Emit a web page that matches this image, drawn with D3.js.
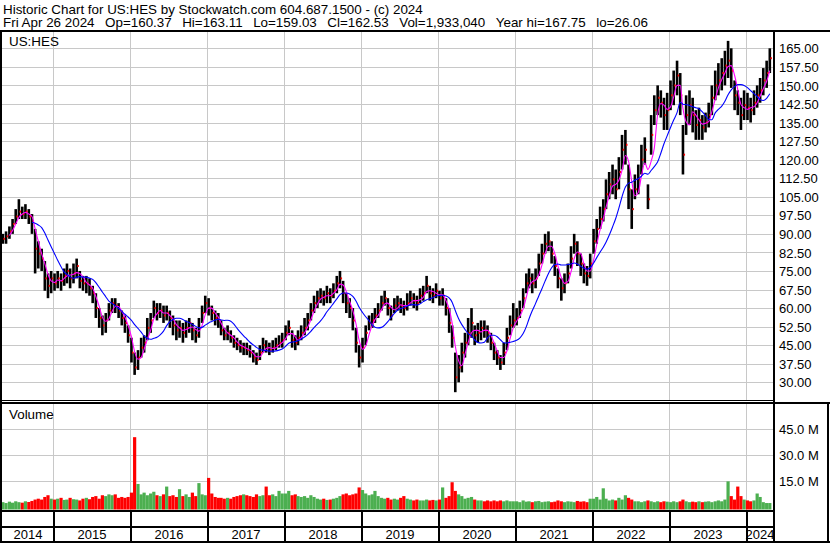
<!DOCTYPE html>
<html><head><meta charset="utf-8">
<script src="https://cdn.jsdelivr.net/npm/d3@7"></script>
<style>
html,body{margin:0;padding:0;background:#fff;}
svg{display:block;font-family:"Liberation Sans",Arial,sans-serif;}
</style></head><body>
<svg id="c" width="830" height="543"></svg>
<script>
// ---- data: semi-monthly periods starting May 2014 ----
const startYear = 2014, startMonth = 5;
const close = [
 88,89,91,94,97,99,98,99,97,95,84,82,80,72,69,72,
 70,72,71,73,75,72,74,77,71,70,70,68,66,60,56,53,55,59,62,61,59,56,54,49,
 42,36,40,44,46,52,55,60,58,59,57,58,56,53,51,52,50,52,54,51,49,52,58,62,
 60,58,56,55,51,49,50,48,46,45,44,44,43,42,40,39,42,45,44,43,44,45,46,47,
 50,52,47,46,48,50,52,55,59,62,64,65,64,66,65,67,70,72,66,62,60,55,46,40,
 44,50,54,55,57,59,62,64,60,57,61,62,61,60,62,64,63,62,65,66,69,66,65,67,
 64,65,60,54,48,32,36,42,46,50,54,49,50,52,51,50,46,42,40,38,42,48,53,55,
 56,59,64,70,72,70,72,78,82,86,87,82,77,72,68,70,74,80,86,82,78,74,73,78,
 87,92,96,100,106,110,112,108,115,124,126,108,100,108,112,120,124,104,130,140,145,143,138,140,
 146,150,154,146,122,138,142,138,134,136,133,135,138,145,150,152,155,158,160,156,146,143,138,142,
 141,140,143,146,148,152,155,161];
const high = [
 90,91,93,96,100,104,101,102,100,98,92,87,84,79,74,75,
 74,75,74,76,78,76,78,80,75,73,73,72,69,66,60,57,58,62,64,64,62,59,57,53,
 48,42,43,48,49,56,58,63,62,62,61,61,59,57,55,55,54,55,56,54,52,56,61,65,
 64,61,59,58,55,52,53,51,49,48,47,46,46,45,43,42,45,48,47,46,47,48,49,50,
 53,55,51,49,51,53,56,58,62,65,67,68,67,69,68,70,73,75,71,66,64,60,52,45,
 48,53,57,58,60,62,65,67,64,61,64,65,64,63,66,67,66,65,68,69,73,69,68,70,
 67,68,64,60,53,42,41,46,50,56,60,53,54,55,55,53,50,46,43,41,46,52,57,62,
 60,63,68,74,76,74,76,82,86,90,91,87,81,76,72,74,78,85,90,87,82,78,77,82,
 92,96,101,104,112,115,118,116,121,130,132,118,108,114,118,126,129,110,138,146,150,148,145,147,
 152,156,160,155,134,146,148,145,140,141,138,139,143,150,156,159,161,164,168,165,152,148,145,148,
 147,145,148,150,153,157,160,165];
const low = [
 86,86,88,90,94,96,96,96,94,90,74,76,75,67,64,66,
 67,68,67,69,70,68,70,72,68,67,66,65,62,56,52,49,50,55,58,58,56,53,50,46,
 38,33,35,40,42,47,50,56,55,56,54,55,52,49,47,48,46,48,50,47,46,48,54,58,
 57,55,53,52,49,47,47,46,44,43,42,41,41,40,38,37,39,42,42,41,42,43,44,44,
 47,49,44,43,45,47,49,51,55,58,60,62,61,62,62,64,66,68,62,58,56,51,42,36,
 38,45,51,52,54,56,59,61,57,55,58,59,58,57,59,61,60,59,62,63,66,63,62,64,
 61,61,57,50,44,26,30,34,40,45,48,45,46,47,48,46,43,39,37,35,37,43,49,52,
 53,56,60,66,68,66,68,73,78,82,83,78,73,68,63,66,70,76,82,77,73,70,69,72,
 82,86,92,95,100,104,106,104,108,116,118,100,92,104,106,114,118,100,122,134,138,137,132,132,
 140,142,146,138,114,130,134,131,128,128,128,131,133,138,144,146,148,150,153,149,140,138,132,136,
 136,135,138,141,143,146,149,155];
const volume = [ // millions
 2.5,2.0,2.8,2.2,3.0,2.5,2.2,3.0,2.6,3.2,4.0,4.5,4.0,5.5,6.5,4.5,
 4.0,4.5,5.0,3.8,4.0,5.0,4.2,4.0,3.5,4.5,5.0,4.2,5.5,6.0,4.5,6.5,6.0,7.0,6.5,7.0,5.0,5.5,5.0,5.5,
 8.0,40.0,13.0,7.0,8.0,6.5,7.5,8.5,6.5,6.0,7.0,11.5,6.0,6.5,5.5,10.0,6.0,7.0,5.5,8.0,6.0,13.5,7.0,6.5,
 16.5,7.5,5.5,5.0,5.0,4.5,5.0,4.5,5.5,6.0,6.5,7.0,6.5,6.0,5.5,7.0,6.0,6.5,11.5,6.5,7.0,6.0,9.0,7.5,
 7.5,9.0,6.5,7.0,6.0,5.5,6.0,5.0,6.5,5.5,4.5,4.0,4.5,3.8,4.0,4.5,5.0,6.0,7.0,7.5,6.5,7.0,7.5,11.0,
 9.5,7.5,6.5,7.0,9.0,6.0,5.0,4.5,5.0,4.0,4.5,4.0,5.0,6.0,4.5,4.0,3.5,4.0,3.5,3.5,4.0,3.5,3.8,3.5,
 4.0,11.0,5.0,6.0,14.0,9.0,7.0,6.0,4.5,5.0,5.5,4.0,3.5,3.5,3.0,3.5,3.0,3.5,3.0,3.5,3.0,3.5,3.0,3.0,
 3.0,2.5,3.5,2.8,3.0,2.5,3.0,3.2,2.5,2.8,3.0,2.5,2.8,3.5,3.0,2.5,3.0,2.8,2.5,3.2,2.8,3.0,2.5,4.5,
 4.5,5.5,4.0,10.5,4.5,3.5,4.0,3.5,5.0,4.0,6.5,5.0,4.0,3.0,3.0,2.5,3.0,3.5,3.0,2.5,3.0,2.5,3.0,2.8,
 2.5,3.0,2.5,3.0,4.0,3.0,2.5,2.8,2.5,3.0,2.5,2.8,3.0,2.5,3.0,3.5,3.0,4.0,14.5,6.0,4.0,11.5,6.0,4.0,
 3.5,3.0,3.5,7.5,5.5,2.5,2.0,2.0];
const priceTicks = [30,37.5,45,52.5,60,67.5,75,82.5,90,97.5,105,112.5,120,127.5,135,142.5,150,157.5,165];
const volTicks = [15,30,45];
const yearLabels = ["2014","2015","2016","2017","2018","2019","2020","2021","2022","2023","2024"];
const headerLine1 = "Historic Chart for US:HES by Stockwatch.com 604.687.1500 - (c) 2024";
const headerFields = ["Fri Apr 26 2024","Op=160.37","Hi=163.11","Lo=159.03","Cl=162.53","Vol=1,933,040","Year hi=167.75","lo=26.06"];
const symbolLabel = "US:HES";
const shortMA = 3, longMA = 10; // periods

// ---- drawing ----
const svg = d3.select("#c");
const FONT = "'Liberation Sans', Arial, sans-serif";
const dates = close.map((_, i) => {
  const m = startMonth - 1 + Math.floor(i / 2);
  return new Date(startYear + Math.floor(m / 12), m % 12, i % 2 ? 23 : 8);
});
const x = d3.scaleTime().domain([new Date(2014,4,1), new Date(2024,4,1)]).range([1.4, 771.5]);
const y = d3.scaleLinear().domain([30,165]).range([382.3,48.3]);
const yv = d3.scaleLinear().domain([0,45]).range([506.5,428.5]);
const PL = 2, PR = 773;
const yearStarts = yearLabels.slice(1).map(s => new Date(+s,0,1));
const yearX = yearStarts.map(d => Math.round(x(d)));

svg.append("rect").attr("width",830).attr("height",543).attr("fill","#fff");

// gridlines
const grid = svg.append("g").attr("stroke","#c8c8c8").attr("stroke-width",1).attr("shape-rendering","crispEdges");
priceTicks.forEach(t => grid.append("line").attr("x1",PL).attr("x2",PR).attr("y1",Math.round(y(t))+0.5).attr("y2",Math.round(y(t))+0.5));
volTicks.forEach(t => grid.append("line").attr("x1",PL).attr("x2",PR).attr("y1",Math.round(yv(t))+0.5).attr("y2",Math.round(yv(t))+0.5));
yearX.forEach(px => {
  grid.append("line").attr("x1",px+0.5).attr("x2",px+0.5).attr("y1",32).attr("y2",400);
  grid.append("line").attr("x1",px+0.5).attr("x2",px+0.5).attr("y1",404).attr("y2",510);
});

// volume bars
const volBase = 509.5;
svg.append("g").selectAll("rect").data(volume).join("rect")
  .attr("x", (d,i) => x(dates[i]) - 1.6)
  .attr("width", 3.2)
  .attr("y", d => yv(d))
  .attr("height", d => volBase - yv(d))
  .attr("fill", (d,i) => (i === 0 || close[i] >= close[i-1]) ? "#4caf50" : "#ff0000");

// price bars
const bars = svg.append("g");
bars.selectAll("rect.b").data(close).join("rect").attr("class","b")
  .attr("x", (d,i) => x(dates[i]) - 1.3)
  .attr("width", 2.6)
  .attr("y", (d,i) => y(high[i]))
  .attr("height", (d,i) => Math.max(1, y(low[i]) - y(high[i])))
  .attr("fill", "#000");
bars.selectAll("rect.c").data(close).join("rect").attr("class","c")
  .attr("x", (d,i) => x(dates[i]) + 0.6)
  .attr("width", 1.5)
  .attr("y", d => y(d) - 1)
  .attr("height", 2)
  .attr("fill", "#ff0000");

// moving averages
function ma(n) {
  const out = [];
  for (let i = n - 1; i < close.length; i++) out.push({d: dates[i], v: d3.mean(close.slice(i - n + 1, i + 1))});
  return out;
}
const line = d3.line().x(p => x(p.d)).y(p => y(p.v)).curve(d3.curveMonotoneX);
svg.append("path").attr("d", line(ma(shortMA))).attr("fill","none").attr("stroke","#ff00ff").attr("stroke-width",1.1);
svg.append("path").attr("d", line(ma(longMA))).attr("fill","none").attr("stroke","#0000ff").attr("stroke-width",1.1);

// frame
const fr = svg.append("g").attr("fill","#000").attr("shape-rendering","crispEdges");
fr.append("rect").attr("x",0).attr("y",30).attr("width",830).attr("height",2);      // under header
fr.append("rect").attr("x",0).attr("y",30).attr("width",2).attr("height",513);      // left
fr.append("rect").attr("x",773).attr("y",30).attr("width",2).attr("height",513);    // axis border
fr.append("rect").attr("x",0).attr("y",400).attr("width",775).attr("height",1);     // price bottom
fr.append("rect").attr("x",0).attr("y",402).attr("width",830).attr("height",1.5);   // volume top
fr.append("rect").attr("x",827).attr("y",402).attr("width",2).attr("height",141);   // right border low
fr.append("rect").attr("x",0).attr("y",509.5).attr("width",775).attr("height",2);   // volume bottom
fr.append("rect").attr("x",0).attr("y",526).attr("width",775).attr("height",2);     // label row top
fr.append("rect").attr("x",0).attr("y",541).attr("width",830).attr("height",2);     // bottom
yearX.forEach(px => fr.append("rect").attr("x",px-0.5).attr("y",511).attr("width",2).attr("height",30));

// axes (right)
const ax = svg.append("g").attr("transform","translate(775,0)")
  .call(d3.axisRight(y).tickValues(priceTicks).tickSize(0).tickPadding(4).tickFormat(d => d.toFixed(2)));
ax.select(".domain").remove();
ax.attr("font-size",13).attr("font-family",FONT);
ax.selectAll("text").attr("fill","#000").attr("dy","0.36em");
const av = svg.append("g").attr("transform","translate(775,0)")
  .call(d3.axisRight(yv).tickValues(volTicks).tickSize(0).tickPadding(4).tickFormat(d => d.toFixed(1) + " M"));
av.select(".domain").remove();
av.attr("font-size",13).attr("font-family",FONT);
av.selectAll("text").attr("fill","#000").attr("dy","0.36em");

// year labels
const cells = [PL, ...yearX, PR];
svg.append("g").attr("font-size",13).attr("font-family",FONT).attr("text-anchor","middle")
  .selectAll("text").data(yearLabels).join("text")
  .attr("x", (d,i) => (cells[i] + cells[i+1]) / 2 + 0.5)
  .attr("y", 539)
  .text(d => d);

// header
const hdr = svg.append("g").attr("font-size",13.4).attr("font-family",FONT).attr("fill","#000");
hdr.append("text").attr("x",3).attr("y",13.5).text(headerLine1);
let hx = 3;
headerFields.forEach(f => {
  const t = hdr.append("text").attr("x",hx).attr("y",27).text(f);
  hx += t.node().getComputedTextLength() + 10.5;
});
svg.append("text").attr("x",9).attr("y",45.5).attr("font-size",13.4).attr("font-family",FONT).text(symbolLabel);
svg.append("text").attr("x",9).attr("y",418.5).attr("font-size",13.4).attr("font-family",FONT).text("Volume");
</script>
</body></html>
